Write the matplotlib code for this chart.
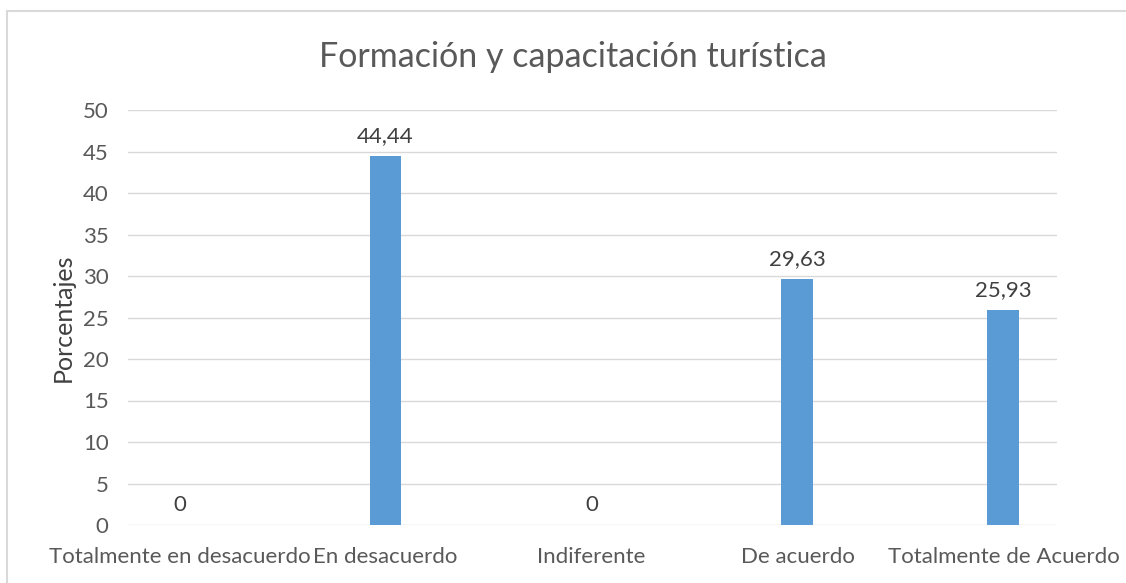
import matplotlib
matplotlib.use("Agg")
import matplotlib.pyplot as plt
from matplotlib.patches import Rectangle

categories = ["Totalmente en desacuerdo", "En desacuerdo", "Indiferente", "De acuerdo", "Totalmente de Acuerdo"]
values = [0, 44.44, 0, 29.63, 25.93]
labels = ["0", "44,44", "0", "29,63", "25,93"]
yticks = [0, 5, 10, 15, 20, 25, 30, 35, 40, 45, 50]

plt.rcParams['font.family'] = ['Lato', 'DejaVu Sans']
txt = '#595959'
dark = '#404040'

fig = plt.figure(figsize=(11.26, 5.83), dpi=100)
ax = fig.add_axes([128/1126, 1-525/583, (1057-128)/1126, (525-110)/583])

x = list(range(len(categories)))
ax.bar(x, values, width=0.155, color='#5B9BD5', zorder=3)
ax.set_xlim(-0.25, 4.26)
ax.set_ylim(0, 50)
ax.set_yticks(yticks)
ax.set_yticklabels([str(t) for t in yticks], fontsize=16, color=txt)
ax.set_xticks(x)
ax.set_xticklabels(categories, fontsize=16, color=txt)
ax.tick_params(axis='both', length=0)
ax.tick_params(axis='y', pad=14)
ax.tick_params(axis='x', pad=16)
ax.grid(axis='y', color='#D9D9D9', linewidth=1, zorder=0)
for s in ax.spines.values():
    s.set_visible(False)
for xi, v, l in zip(x, values, labels):
    ax.annotate(l, (xi, v), xytext=(0, 7), textcoords='offset points',
                ha='center', va='bottom', fontsize=16, color=dark)
ax.set_ylabel("Porcentajes", fontsize=18, color=dark, labelpad=6)
fig.text(573/1126, 1-57/583, "Formación y capacitación turística", ha='center', va='center',
         fontsize=24.5, color=txt)
fig.patches.append(Rectangle((7/1126, -0.05), 1.0, 1.05-11/583, transform=fig.transFigure,
                             fill=False, edgecolor='#D9D9D9', linewidth=1.5))
fig.savefig("out.png", dpi=100)
